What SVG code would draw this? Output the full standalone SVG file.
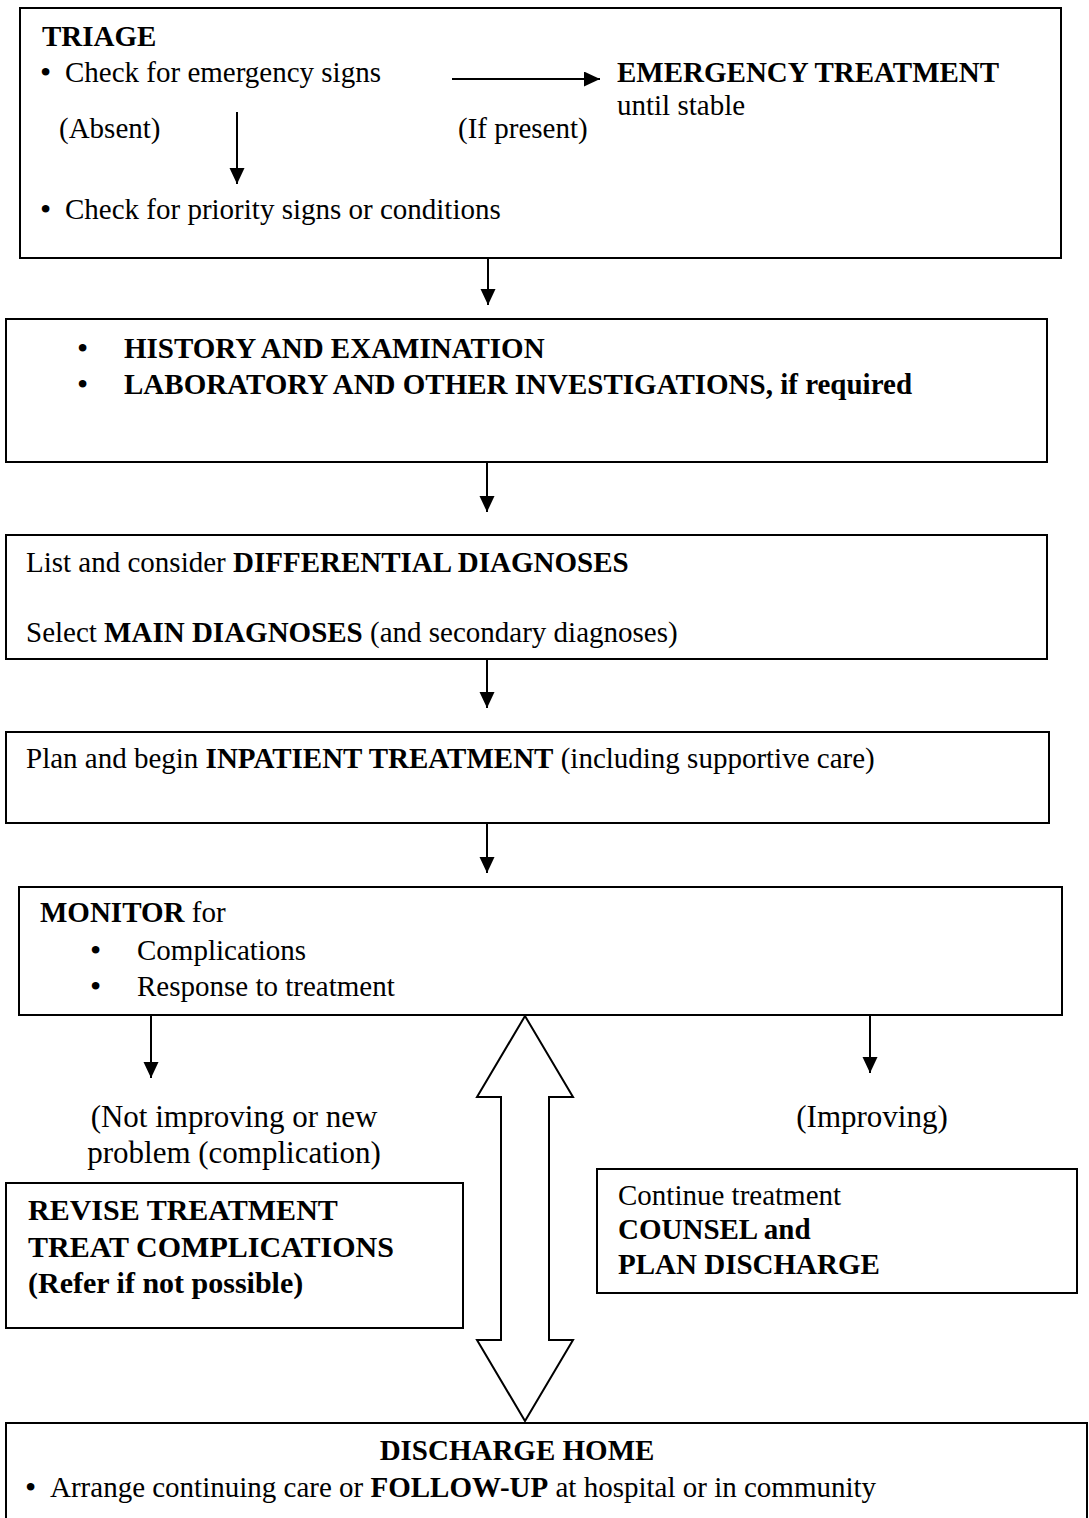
<svg xmlns="http://www.w3.org/2000/svg" width="1089" height="1518" viewBox="0 0 1089 1518">
<style>
  .box { fill: #fff; stroke: #000; stroke-width: 2; }
  .t { font-family: "Liberation Serif", "Times New Roman", serif; font-size: 29px; fill: #000; }
  .b { font-weight: bold; }
  .bul { font-size: 32px; }
  .lbl { font-size: 31px; }
  .rev { font-size: 30px; font-weight: bold; }
  .conn { stroke: #000; stroke-width: 2; fill: none; }
  .big { fill: #fff; stroke: #000; stroke-width: 2; stroke-linejoin: miter; }
</style>
<defs>
  <marker id="ah" markerUnits="userSpaceOnUse" markerWidth="16" markerHeight="16" refX="16" refY="7.5" orient="auto">
    <path d="M0,0 L16,7.5 L0,15 z" fill="#000"/>
  </marker>
</defs>
<rect width="1089" height="1518" fill="#fff"/>

<g id="triage">
  <rect class="box" x="20" y="8" width="1041" height="250"/>
  <text class="t b" x="42" y="46">TRIAGE</text>
  <text class="t bul" x="40" y="83">•</text>
  <text class="t" x="65" y="82">Check for emergency signs</text>
  <text class="t" x="59" y="138">(Absent)</text>
  <text class="t" x="458" y="138">(If present)</text>
  <text class="t bul" x="40" y="220">•</text>
  <text class="t" x="65" y="219">Check for priority signs or conditions</text>
</g>

<g id="emergency">
  <text class="t b" x="617" y="82">EMERGENCY TREATMENT</text>
  <text class="t" x="617" y="115">until stable</text>
</g>

<g id="history">
  <rect class="box" x="6" y="319" width="1041" height="143"/>
  <text class="t bul" x="77" y="359">•</text>
  <text class="t b" x="124" y="358">HISTORY AND EXAMINATION</text>
  <text class="t bul" x="77" y="395">•</text>
  <text class="t b" x="124" y="394">LABORATORY AND OTHER INVESTIGATIONS, if required</text>
</g>

<g id="diagnoses">
  <rect class="box" x="6" y="535" width="1041" height="124"/>
  <text class="t" x="26" y="572">List and consider <tspan class="b">DIFFERENTIAL DIAGNOSES</tspan></text>
  <text class="t" x="26" y="642">Select <tspan class="b">MAIN DIAGNOSES</tspan> (and secondary diagnoses)</text>
</g>

<g id="inpatient">
  <rect class="box" x="6" y="732" width="1043" height="91"/>
  <text class="t" x="26" y="768">Plan and begin <tspan class="b">INPATIENT TREATMENT</tspan> (including supportive care)</text>
</g>

<g id="monitor">
  <rect class="box" x="19" y="887" width="1043" height="128"/>
  <text class="t" x="40" y="922"><tspan class="b">MONITOR</tspan> for</text>
  <text class="t bul" x="90" y="961">•</text>
  <text class="t" x="137" y="960">Complications</text>
  <text class="t bul" x="90" y="997">•</text>
  <text class="t" x="137" y="996">Response to treatment</text>
</g>

<g id="labels">
  <text class="t lbl" x="234" y="1127" text-anchor="middle">(Not improving or new</text>
  <text class="t lbl" x="234" y="1163" text-anchor="middle">problem (complication)</text>
  <text class="t lbl" x="872" y="1127" text-anchor="middle">(Improving)</text>
</g>

<g id="revise">
  <rect class="box" x="6" y="1183" width="457" height="145"/>
  <text class="t rev" x="28" y="1220">REVISE TREATMENT</text>
  <text class="t rev" x="28" y="1257">TREAT COMPLICATIONS</text>
  <text class="t rev" x="28" y="1293">(Refer if not possible)</text>
</g>

<g id="continue">
  <rect class="box" x="597" y="1169" width="480" height="124"/>
  <text class="t" x="618" y="1205">Continue treatment</text>
  <text class="t b" x="618" y="1239">COUNSEL and</text>
  <text class="t b" x="618" y="1274">PLAN DISCHARGE</text>
</g>

<g id="discharge">
  <rect class="box" x="6" y="1423" width="1081" height="110"/>
  <text class="t b" x="517" y="1460" text-anchor="middle">DISCHARGE HOME</text>
  <text class="t bul" x="25" y="1498">•</text>
  <text class="t" x="50" y="1497">Arrange continuing care or <tspan class="b">FOLLOW-UP</tspan> at hospital or in community</text>
</g>

<g id="connectors">
  <line class="conn" x1="452" y1="79" x2="600" y2="79" stroke-width="3" marker-end="url(#ah)"/>
  <line class="conn" x1="237" y1="112" x2="237" y2="184" marker-end="url(#ah)"/>
  <line class="conn" x1="488" y1="258" x2="488" y2="305" marker-end="url(#ah)"/>
  <line class="conn" x1="487" y1="462" x2="487" y2="512" marker-end="url(#ah)"/>
  <line class="conn" x1="487" y1="659" x2="487" y2="708" marker-end="url(#ah)"/>
  <line class="conn" x1="487" y1="823" x2="487" y2="873" marker-end="url(#ah)"/>
  <line class="conn" x1="151" y1="1015" x2="151" y2="1078" marker-end="url(#ah)"/>
  <line class="conn" x1="870" y1="1015" x2="870" y2="1073" marker-end="url(#ah)"/>
  <polygon class="big" points="525,1016 573,1097 549,1097 549,1340 573,1340 525,1421 477,1340 501,1340 501,1097 477,1097"/>
</g>
</svg>
